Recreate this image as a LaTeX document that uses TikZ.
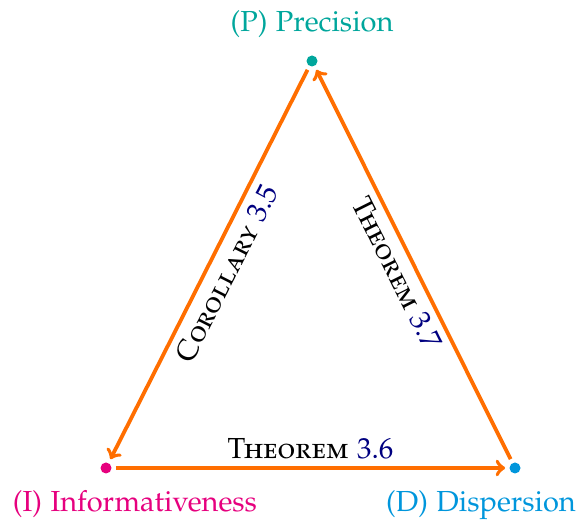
\documentclass[tikz,border=0pt]{standalone}
\usepackage[T1]{fontenc}
\usepackage[sc]{mathpazo}
\usepackage{xcolor}
\usepackage{tikz}
\usetikzlibrary{arrows.meta}

\definecolor{precol}{RGB}{0,166,156}
\definecolor{infcol}{RGB}{230,0,126}
\definecolor{discol}{RGB}{0,150,220}
\definecolor{arrcol}{RGB}{255,110,0}
\definecolor{refcol}{RGB}{0,0,128}

\begin{document}
\begin{tikzpicture}[
  x=0.5pt, y=-0.5pt, font=\fontsize{14.5}{17}\selectfont,
  dot/.style={circle, inner sep=0pt, minimum size=5.5pt},
  lab/.style={anchor=base},
  arr/.style={-to, line width=1.9pt, draw=arrcol, shorten <=2pt, shorten >=2pt}]
  \useasboundingbox (0,0) rectangle (579,523);
  \node[dot, fill=precol] (P) at (312,61) {};
  \node[dot, fill=infcol] (I) at (106,468) {};
  \node[dot, fill=discol] (D) at (515,468) {};
  \node[lab, precol] (plab) at (312,32) {(P) Precision};
  \node[lab, infcol] (ilab) at (135,512) {(I) Informativeness};
  \node[lab, discol] (dlab) at (481,512) {(D) Dispersion};
  \draw[arr] (P) -- (I) node[midway, sloped, below] (cor) {\textsc{Corollary} \textcolor{refcol}{3.5}};
  \draw[arr] (I) -- (D) node[midway, above] (thm) {\textsc{Theorem} \textcolor{refcol}{3.6}};
  \draw[arr] (D) -- (P) node[midway, sloped, below] (thmb) {\textsc{Theorem} \textcolor{refcol}{3.7}};
\end{tikzpicture}
\end{document}
